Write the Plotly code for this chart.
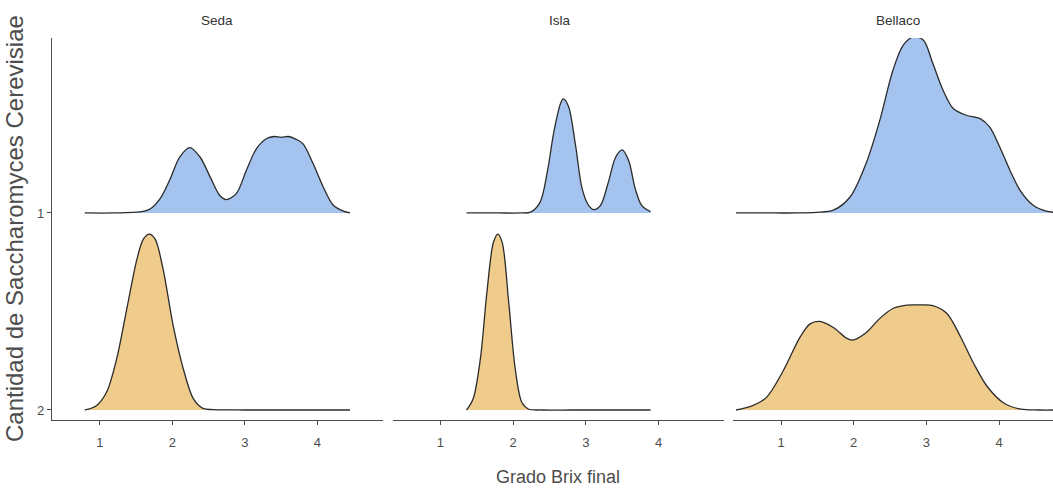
import plotly.graph_objects as go

# ---------------- data ----------------
panels = ["Seda", "Isla", "Bellaco"]
levels = ["1", "2"]          # ridge labels, "1" drawn above "2"
x_ticks = [1, 2, 3, 4]
y_title = "Cantidad de Saccharomyces Cerevisiae"
x_title = "Grado Brix final"

# ridge heights in units of the ridge spacing
seda_1_x = [0.79, 1.20, 1.55, 1.69, 1.83, 1.96, 2.10, 2.24, 2.38, 2.52, 2.65, 2.74, 2.88, 3.02,
            3.16, 3.30, 3.40, 3.50, 3.60, 3.70, 3.80, 3.94, 4.08, 4.22, 4.36, 4.45]
seda_1_h = [0.0, 0.0, 0.005, 0.020, 0.073, 0.166, 0.284, 0.332, 0.284, 0.183, 0.090, 0.068, 0.098, 0.217,
            0.327, 0.378, 0.388, 0.384, 0.388, 0.375, 0.352, 0.251, 0.132, 0.039, 0.009, 0.0]

seda_2_x = [0.79, 0.95, 1.09, 1.23, 1.37, 1.51, 1.60, 1.68, 1.76, 1.87, 2.01, 2.15, 2.29, 2.42,
            2.56, 3.00, 3.50, 4.00, 4.45]
seda_2_h = [0.0, 0.022, 0.090, 0.259, 0.513, 0.766, 0.868, 0.893, 0.868, 0.716, 0.428, 0.208, 0.056, 0.008,
            0.002, 0.0, 0.0, 0.0, 0.0]

isla_1_x = [1.36, 1.80, 2.10, 2.24, 2.37, 2.47, 2.56, 2.65, 2.69, 2.76, 2.86, 2.95, 3.04, 3.11,
            3.20, 3.31, 3.41, 3.50, 3.59, 3.68, 3.77, 3.89]
isla_1_h = [0.0, 0.0, 0.0, 0.004, 0.054, 0.207, 0.410, 0.553, 0.579, 0.543, 0.340, 0.122, 0.037, 0.017,
            0.037, 0.156, 0.283, 0.320, 0.265, 0.122, 0.037, 0.007]

isla_2_x = [1.36, 1.45, 1.55, 1.64, 1.73, 1.79, 1.85, 1.94, 2.03, 2.12, 2.21, 2.40, 2.80, 3.20, 3.60, 3.89]
isla_2_h = [0.0, 0.056, 0.259, 0.597, 0.851, 0.893, 0.851, 0.546, 0.208, 0.039, 0.005, 0.0, 0.0, 0.0, 0.0, 0.0]

bellaco_1_x = [0.38, 0.90, 1.20, 1.49, 1.72, 1.95, 2.17, 2.36, 2.54, 2.68, 2.82, 2.96, 3.09, 3.23,
               3.37, 3.55, 3.74, 3.87, 4.01, 4.15, 4.29, 4.47, 4.65, 4.80]
bellaco_1_h = [0.0, 0.0, 0.0, 0.003, 0.014, 0.081, 0.251, 0.471, 0.724, 0.851, 0.893, 0.877, 0.758, 0.623,
               0.530, 0.496, 0.479, 0.437, 0.335, 0.217, 0.115, 0.039, 0.009, 0.002]

bellaco_2_x = [0.38, 0.61, 0.80, 1.03, 1.26, 1.40, 1.53, 1.72, 1.90, 1.99, 2.17, 2.36, 2.54, 2.73,
               2.90, 3.09, 3.28, 3.47, 3.65, 3.84, 4.07, 4.30, 4.55, 4.80]
bellaco_2_h = [0.0, 0.022, 0.064, 0.199, 0.369, 0.437, 0.450, 0.419, 0.365, 0.355, 0.392, 0.465, 0.515, 0.532,
               0.533, 0.530, 0.491, 0.372, 0.237, 0.118, 0.034, 0.004, 0.0, 0.0]

ridges = {
    "Seda": {"1": (seda_1_x, seda_1_h), "2": (seda_2_x, seda_2_h)},
    "Isla": {"1": (isla_1_x, isla_1_h), "2": (isla_2_x, isla_2_h)},
    "Bellaco": {"1": (bellaco_1_x, bellaco_1_h), "2": (bellaco_2_x, bellaco_2_h)},
}

# ---------------- styles ----------------
fill_colors = {"1": "#A4C4EF", "2": "#EFCC8C"}
line_color = "#2b2b2b"
axis_color = "#4d4d4d"
text_color = "#4d4d4d"
FONT = "Liberation Sans, Arial, sans-serif"

W, H = 1053, 490
x_domains_px = [(52, 383), (393, 724), (733, 1053)]
x_ranges = [[0.338, 4.905], [0.349, 4.90], [0.339, 4.743]]
y_dom = [(H - 420) / H, (H - 38) / H]
y_range = [-0.0508, 1.888]

fig = go.Figure()

n_lv = len(levels)
for p_i, panel in enumerate(panels):
    xa = "x" if p_i == 0 else f"x{p_i + 1}"
    ya = "y" if p_i == 0 else f"y{p_i + 1}"
    for l_i, lv in enumerate(levels):
        base = n_lv - 1 - l_i
        xs, hs = ridges[panel][lv]
        fig.add_trace(go.Scatter(
            x=xs, y=[base] * len(xs), mode="lines",
            line=dict(width=0, color="rgba(0,0,0,0)"),
            xaxis=xa, yaxis=ya, showlegend=False, hoverinfo="skip"))
        fig.add_trace(go.Scatter(
            x=xs, y=[base + h for h in hs], mode="lines",
            line=dict(width=1.3, color=line_color, shape="spline", smoothing=0.9),
            fill="tonexty", fillcolor=fill_colors[lv],
            xaxis=xa, yaxis=ya, showlegend=False))

layout = dict(
    width=W, height=H,
    margin=dict(l=0, r=0, t=0, b=0, autoexpand=False),
    paper_bgcolor="white", plot_bgcolor="white",
    font=dict(family=FONT, color=text_color),
)

for p_i in range(len(panels)):
    d0, d1 = x_domains_px[p_i]
    key = "xaxis" if p_i == 0 else f"xaxis{p_i + 1}"
    ykey = "yaxis" if p_i == 0 else f"yaxis{p_i + 1}"
    ya = "y" if p_i == 0 else f"y{p_i + 1}"
    layout[key] = dict(
        domain=[d0 / W, d1 / W], range=x_ranges[p_i], anchor=ya,
        showline=True, linecolor=axis_color, linewidth=1.2,
        showgrid=False, zeroline=False, automargin=False,
        tickmode="array", tickvals=x_ticks, ticktext=[str(t) for t in x_ticks],
        ticks="outside", ticklen=4, tickwidth=1.1, tickcolor=axis_color,
        tickfont=dict(size=13, color=text_color, family=FONT),
        ticklabelstandoff=6, fixedrange=True,
    )
    layout[ykey] = dict(
        domain=y_dom, range=y_range,
        anchor="x" if p_i == 0 else f"x{p_i + 1}",
        showgrid=False, zeroline=False, fixedrange=True, automargin=False,
        showline=(p_i == 0), linecolor=axis_color, linewidth=1.2,
        tickmode="array", tickvals=[n_lv - 1 - i for i in range(n_lv)], ticktext=levels,
        ticks="outside" if p_i == 0 else "", ticklen=4, tickwidth=1.1, tickcolor=axis_color,
        showticklabels=(p_i == 0),
        tickfont=dict(size=13, color=text_color, family=FONT),
    )

fig.update_layout(**layout)

annotations = []
strip_x_px = [217, 560, 898]
for p_i, panel in enumerate(panels):
    annotations.append(dict(
        text=panel, x=strip_x_px[p_i] / W, y=(H - 20) / H, xref="paper", yref="paper",
        xanchor="center", yanchor="middle", showarrow=False,
        font=dict(size=13.5, color="#333333", family=FONT)))
annotations.append(dict(
    text=x_title, x=558 / W, y=(H - 477) / H, xref="paper", yref="paper",
    xanchor="center", yanchor="middle", showarrow=False,
    font=dict(size=18, color=text_color, family=FONT)))
annotations.append(dict(
    text=y_title, x=14.5 / W, y=(H - 228.5) / H, xref="paper", yref="paper",
    xanchor="center", yanchor="middle", showarrow=False, textangle=-90,
    font=dict(size=24, color=text_color, family=FONT)))
fig.update_layout(annotations=annotations)

fig.write_html(
    "out.html",
    config={"displayModeBar": False},
    post_script="document.body.style.margin='0';document.body.style.padding='0';"
                "document.body.style.overflow='hidden';",
)
